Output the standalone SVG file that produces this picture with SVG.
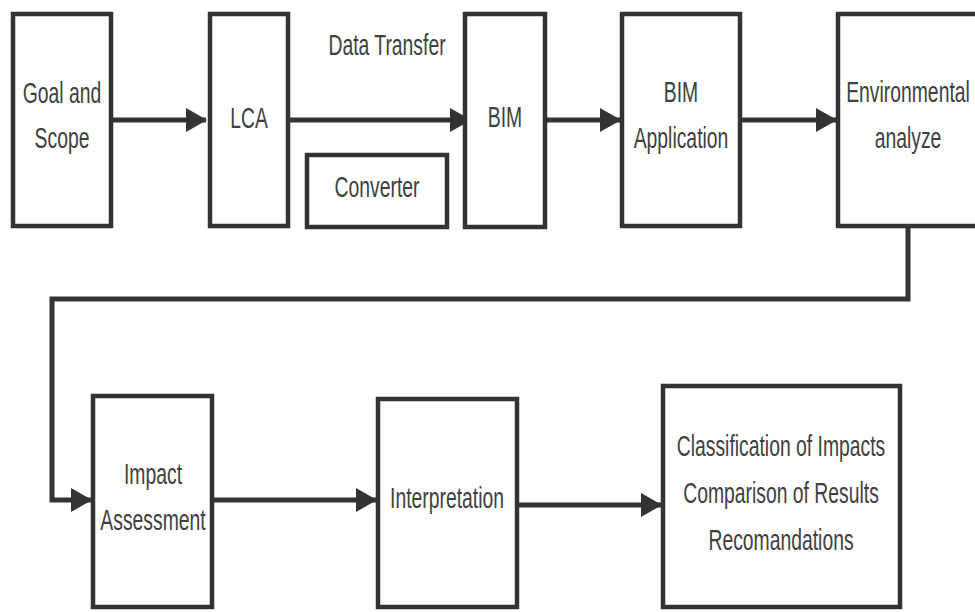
<svg xmlns="http://www.w3.org/2000/svg" width="975" height="612" viewBox="0 0 975 612">
<style>
.box{fill:#ffffff;stroke:#333333;stroke-width:4.5}
.lbl{font-family:"Liberation Sans",Arial,sans-serif;font-size:30px;fill:#404040;text-anchor:middle}
.con{fill:none;stroke:#333333;stroke-width:5}
</style>
<defs>
<marker id="ah" markerUnits="userSpaceOnUse" markerWidth="22" markerHeight="24" refX="20" refY="12" orient="auto">
<path d="M0,0 L21,12 L0,24 Z" fill="#333333"/>
</marker>
</defs>
<rect width="975" height="612" fill="#ffffff"/>
<g id="connectors">
<line class="con" x1="111" y1="120" x2="206" y2="120" marker-end="url(#ah)"/>
<line class="con" x1="288" y1="120" x2="470" y2="120" marker-end="url(#ah)"/>
<line class="con" x1="545" y1="120" x2="620" y2="120" marker-end="url(#ah)"/>
<line class="con" x1="740" y1="120" x2="836" y2="120" marker-end="url(#ah)"/>
<polyline class="con" points="908,226 908,299 52,299 52,500 91,500" marker-end="url(#ah)"/>
<line class="con" x1="212" y1="500" x2="376" y2="500" marker-end="url(#ah)"/>
<line class="con" x1="517" y1="505" x2="661" y2="505" marker-end="url(#ah)"/>
</g>
<g id="goal">
<rect class="box" x="13" y="14" width="98" height="212"/>
<text class="lbl" transform="translate(62 103) scale(0.645 1)">Goal and</text>
<text class="lbl" transform="translate(62 148) scale(0.645 1)">Scope</text>
</g>
<g id="lca">
<rect class="box" x="210" y="14" width="78" height="212"/>
<text class="lbl" transform="translate(249 128) scale(0.645 1)">LCA</text>
</g>
<g id="datatransfer">
<text class="lbl" transform="translate(387 55) scale(0.645 1)">Data Transfer</text>
</g>
<g id="converter">
<rect class="box" x="307" y="155" width="140" height="72"/>
<text class="lbl" transform="translate(377 197) scale(0.645 1)">Converter</text>
</g>
<g id="bim">
<rect class="box" x="465" y="14" width="80" height="213"/>
<text class="lbl" transform="translate(505 127) scale(0.645 1)">BIM</text>
</g>
<g id="bimapp">
<rect class="box" x="622" y="14" width="118" height="212"/>
<text class="lbl" transform="translate(681 102) scale(0.645 1)">BIM</text>
<text class="lbl" transform="translate(681 148) scale(0.645 1)">Application</text>
</g>
<g id="env">
<rect class="box" x="838" y="14" width="145" height="212"/>
<text class="lbl" transform="translate(908 102) scale(0.645 1)">Environmental</text>
<text class="lbl" transform="translate(908 148) scale(0.645 1)">analyze</text>
</g>
<g id="impact">
<rect class="box" x="93" y="396" width="119" height="211"/>
<text class="lbl" transform="translate(153 484) scale(0.645 1)">Impact</text>
<text class="lbl" transform="translate(153 530) scale(0.645 1)">Assessment</text>
</g>
<g id="interp">
<rect class="box" x="378" y="399" width="139" height="208"/>
<text class="lbl" transform="translate(447 508) scale(0.645 1)">Interpretation</text>
</g>
<g id="classif">
<rect class="box" x="663" y="386" width="237" height="221"/>
<text class="lbl" transform="translate(781 456) scale(0.645 1)">Classification of Impacts</text>
<text class="lbl" transform="translate(781 503) scale(0.645 1)">Comparison of Results</text>
<text class="lbl" transform="translate(781 550) scale(0.645 1)">Recomandations</text>
</g>
</svg>
